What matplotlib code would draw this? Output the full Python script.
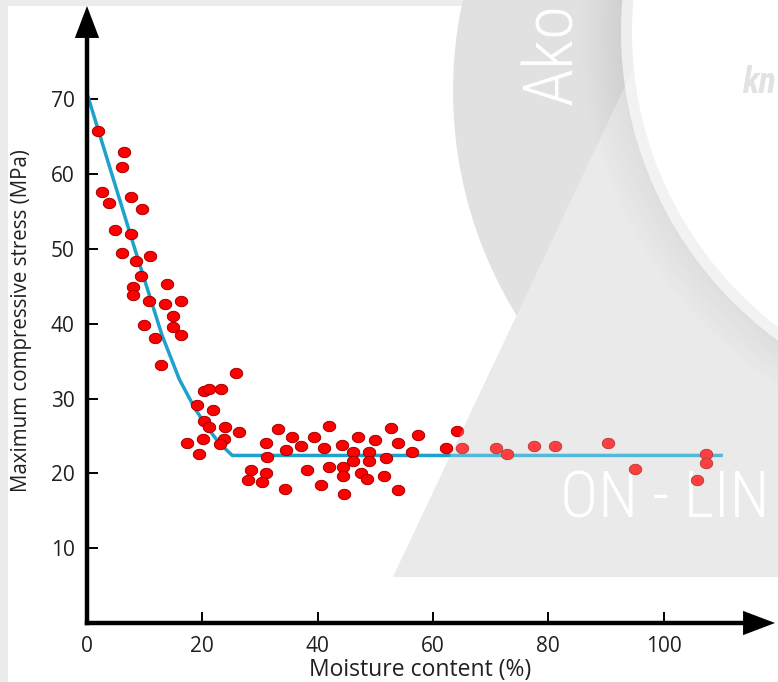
import matplotlib
matplotlib.use("Agg")
import matplotlib.pyplot as plt
from matplotlib.path import Path
from matplotlib.patches import Circle, Polygon, Rectangle
from matplotlib.transforms import Affine2D
import numpy as np

W, H = 778, 682

# measured points (moisture %, stress MPa)
moisture = [1.85, 6.4, 6.0, 2.6, 3.8, 7.6, 9.5, 4.85, 7.6, 6.0, 10.9, 8.5, 9.4,
            7.9, 7.9, 10.7, 13.8, 13.5, 16.3, 14.85, 15.0, 9.9, 11.8, 16.3, 12.8,
            25.8, 19.0, 20.3, 21.2, 23.3, 21.9, 20.3, 21.1, 24.0, 26.3, 17.4,
            20.2, 23.8, 23.05, 19.4, 31.1, 31.3, 28.4, 28.0, 31.1, 30.4, 33.2,
            35.5, 34.5, 37.1, 34.4, 38.1, 39.3, 41.9, 41.1, 41.9, 40.6, 44.2,
            44.4, 44.4, 44.5, 47.0, 46.2, 46.2, 47.5, 48.5, 48.9, 48.9, 50.0,
            51.9, 51.5, 52.8, 53.95, 53.95, 57.4, 56.3, 64.1, 62.2, 65.1, 70.9,
            72.8, 77.6, 81.1, 90.3, 95.1, 107.4, 107.4, 105.8]
stress = [65.8, 63.0, 61.0, 57.6, 56.1, 56.9, 55.3, 52.6, 52.0, 49.5, 49.1, 48.4,
          46.4, 44.9, 43.9, 43.0, 45.3, 42.7, 43.0, 41.0, 39.6, 39.8, 38.1, 38.5,
          34.5, 33.4, 29.1, 31.0, 31.3, 31.3, 28.5, 27.0, 26.2, 26.2, 25.5, 24.1,
          24.6, 24.6, 23.9, 22.6, 24.0, 22.2, 20.5, 19.1, 20.1, 18.8, 25.9, 24.9,
          23.1, 23.6, 17.9, 20.5, 24.9, 26.4, 23.4, 20.9, 18.4, 23.8, 20.9, 19.6,
          17.3, 24.9, 22.9, 21.7, 20.0, 19.2, 22.9, 21.7, 24.4, 22.0, 19.7, 26.1,
          24.0, 17.8, 25.2, 22.8, 25.7, 23.4, 23.4, 23.4, 22.6, 23.6, 23.7, 24.0,
          20.6, 22.6, 21.35, 19.1]

# fitted curve
fit_moisture = [0, 8.5, 13, 16, 18.7, 21, 23, 25.2, 110]
fit_stress = [70.8, 49.5, 38.5, 32.6, 28.7, 26.0, 24.0, 22.4, 22.4]

x_ticks = [0, 20, 40, 60, 80, 100]
y_ticks = [10, 20, 30, 40, 50, 60, 70]

txt_color = "#231f20"
plt.rcParams["font.family"] = ["Open Sans", "DejaVu Sans"]

fig = plt.figure(figsize=(W / 100, H / 100), dpi=100)
fig.patch.set_facecolor("#ececec")
# pixel coordinates measured from the top-left corner
px = Affine2D().scale(1 / W, -1 / H).translate(0, 1) + fig.transFigure


def bg(artist, z):
    artist.set_transform(px)
    artist.set_zorder(z)
    fig.add_artist(artist)


def fit_inside(text, margin=2):
    # shrink a watermark text until it sits inside the figure
    r = fig.canvas.get_renderer()
    for _ in range(60):
        bb = text.get_window_extent(r)
        if bb.x1 <= W - margin and bb.y1 <= H - margin:
            break
        text.set_fontsize(text.get_fontsize() * 0.96)


# watermark in the background
bg(Rectangle((8, 6), W, H, fc="white", ec="none"), -10)
bg(Circle((881, 91), 428, fc="#e1e1e1", ec="none"), -9)
tri = [(642, 50), (393, 577), (790, 577), (790, 50)]
bg(Polygon(tri, closed=True, fc="#e4e4e4", ec="none"), -8)
for k in range(20, 0, -1):
    bg(Circle((1003, 32), 371 + 2.6 * k, fc="black", ec="none", alpha=0.003), -7.5)
bg(Circle((1003, 32), 382, fc="#eeeeee", ec="none"), -7)
bg(Circle((1003, 32), 371, fc="white", ec="none"), -6.9)

wm_font = ["Roboto Condensed", "Liberation Sans Narrow", "DejaVu Sans"]
ako = fig.text(572, 105, "Ako", transform=px, rotation=90, rotation_mode="anchor",
               ha="left", va="baseline", fontsize=72, color="white",
               family=wm_font, stretch="condensed", weight="light", zorder=-5)
online = fig.text(560, 517, "ON - LIN", transform=px, ha="left", va="baseline",
                  fontsize=70, color="white", family=wm_font,
                  stretch="condensed", weight="light", zorder=-5)

ax = fig.add_axes([87 / W, (H - 623) / H, (775 - 87) / W, (623 - 6) / H])
ax.set_facecolor("none")
ax.set_xlim(0, (775 - 87) / 5.765)
ax.set_ylim(0, (623 - 6) / 7.48)

ax.plot(fit_moisture, fit_stress, color="#1ca2cc", lw=2.5, zorder=2,
        solid_joinstyle="round", clip_on=False)

t = np.linspace(0, 2 * np.pi, 40)
dot = Path(np.column_stack([0.6 * np.cos(t), 0.5 * np.sin(t)]))
ax.scatter(moisture, stress, s=80, marker=dot, c="#ff0000",
           edgecolors="#a30000", linewidths=0.7, zorder=3, clip_on=False)

for side in ["top", "right"]:
    ax.spines[side].set_visible(False)
for side in ["left", "bottom"]:
    ax.spines[side].set_linewidth(3.2)
    ax.spines[side].set_capstyle("projecting")
ax.spines["left"].set_bounds(0, (623 - 25) / 7.48)
ax.spines["bottom"].set_bounds(0, (760 - 87) / 5.765)

head = dict(arrowstyle="-|>,head_length=1.0,head_width=0.38", mutation_scale=23,
            fc="black", ec="black", lw=0, shrinkA=0, shrinkB=0)
ax.annotate("", xy=(1, 0), xytext=(0.8, 0), xycoords="axes fraction",
            arrowprops=head, annotation_clip=False)
ax.annotate("", xy=(0, 1), xytext=(0, 0.8), xycoords="axes fraction",
            arrowprops=head, annotation_clip=False)

ax.set_xticks(x_ticks)
ax.set_yticks(y_ticks)
ax.tick_params(direction="in", length=8, width=1.4, color="black",
               labelsize=15, labelcolor=txt_color, pad=9)

ax.set_xlabel("Moisture content (%)", fontsize=16.5, color=txt_color)
ax.xaxis.set_label_coords((420 - 87) / 688, -(676 - 623) / 617)
ax.xaxis.label.set_va("baseline")
ax.set_ylabel("Maximum compressive stress (MPa)", fontsize=14.8, color=txt_color)
ax.yaxis.set_label_coords((22 - 87) / 688, (623 - 321) / 617)
ax.yaxis.label.set_va("center")

# fade over the data where the watermark triangle lies
fade = Polygon(tri, closed=True, fc="white", ec="none", alpha=0.25,
               transform=px, zorder=5)
fig.add_artist(fade)
kn = fig.text(742, 93, "kn", transform=px, ha="left", va="baseline", fontsize=56,
              color="#e2e2e2", family=wm_font, stretch="condensed",
              weight="bold", style="italic", zorder=6)

for wm in (ako, online, kn):
    fit_inside(wm)

fig.savefig("out.png", dpi=100, facecolor=fig.get_facecolor())
